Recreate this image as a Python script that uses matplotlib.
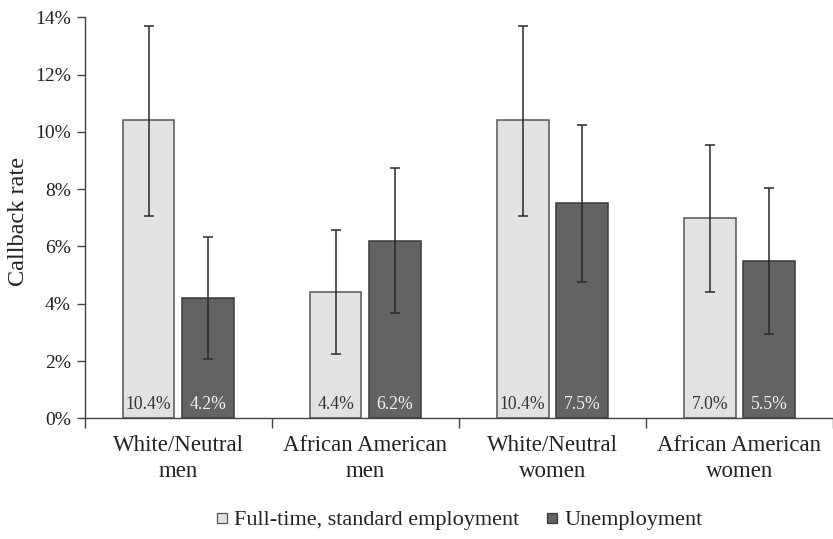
import matplotlib
matplotlib.use("Agg")
import matplotlib.pyplot as plt
from matplotlib.lines import Line2D
import numpy as np

categories = ["White/Neutral\nmen", "African American\nmen", "White/Neutral\nwomen", "African American\nwomen"]
series_names = ["Full-time, standard employment", "Unemployment"]
fulltime = [10.4, 4.4, 10.4, 7.0]
unemployment = [4.2, 6.2, 7.5, 5.5]
fulltime_lo = [7.07, 2.25, 7.07, 4.42]
fulltime_hi = [13.71, 6.56, 13.71, 9.55]
unemp_lo = [2.07, 3.68, 4.77, 2.93]
unemp_hi = [6.33, 8.75, 10.24, 8.05]
yticks = [0, 2, 4, 6, 8, 10, 12, 14]

plt.rcParams['font.family'] = ['Liberation Serif', 'DejaVu Serif']

light = '#e2e2e4'
dark = '#636365'

fig = plt.figure(figsize=(8.33, 5.39), dpi=100)
ax = fig.add_axes([0.1017, 0.2239, 0.8983, 0.744])

x = np.arange(len(categories))
w = 0.277
off = 0.159

def errs(vals, lo, hi):
    return [np.array(vals) - np.array(lo), np.array(hi) - np.array(vals)]

ax.bar(x - off, fulltime, w, color=light, edgecolor='#555555', linewidth=1.1, zorder=2)
ax.bar(x + off, unemployment, w, color=dark, edgecolor='#3a3a3a', linewidth=1.1, zorder=2)
ax.errorbar(x - off, fulltime, yerr=errs(fulltime, fulltime_lo, fulltime_hi), fmt='none',
            ecolor='#2a2a2a', elinewidth=1.1, capsize=3.5, capthick=1.1, zorder=3)
ax.errorbar(x + off, unemployment, yerr=errs(unemployment, unemp_lo, unemp_hi), fmt='none',
            ecolor='#2a2a2a', elinewidth=1.1, capsize=3.5, capthick=1.1, zorder=3)

for xi, v in zip(x - off, fulltime):
    ax.text(xi, 0.18, f"{v:.1f}%", ha='center', va='bottom', fontsize=12.7, color='#333333', zorder=4)
for xi, v in zip(x + off, unemployment):
    ax.text(xi, 0.18, f"{v:.1f}%", ha='center', va='bottom', fontsize=12.7, color='#f4f4f4', zorder=4)

ax.set_ylim(0, 14)
ax.set_xlim(-0.5, 3.476)
ax.set_yticks(yticks)
ax.set_yticklabels([f"{t}%" for t in yticks], fontsize=14, color='#222222')
ax.set_ylabel("Callback rate", fontsize=17.5, color='#222222', labelpad=14)
ax.yaxis.set_label_coords(-0.075, 0.49)

ax.set_xticks(np.arange(-0.5, 3.6, 1.0))
ax.set_xticklabels([])
ax.set_xticks(x, minor=True)
ax.set_xticklabels(categories, minor=True, fontsize=16.5, color='#222222', linespacing=1.3)
ax.tick_params(axis='x', which='minor', length=0, pad=12)
ax.tick_params(axis='x', which='major', length=7, width=1.0, color='#444444')
ax.tick_params(axis='y', length=6, width=1.0, color='#444444', pad=4)

for s in ['top', 'right']:
    ax.spines[s].set_visible(False)
for s in ['left', 'bottom']:
    ax.spines[s].set_color('#444444')
    ax.spines[s].set_linewidth(1.0)

handles = [
    Line2D([], [], marker='s', linestyle='none', markersize=7, markerfacecolor=light, markeredgecolor='#555555', markeredgewidth=0.9),
    Line2D([], [], marker='s', linestyle='none', markersize=7, markerfacecolor=dark, markeredgecolor='#3a3a3a', markeredgewidth=0.9),
]
fig.legend(handles, series_names, loc='center', bbox_to_anchor=(0.551, 0.035), ncol=2, frameon=False,
           fontsize=16, handlelength=0.6, handletextpad=0.25, columnspacing=1.2, labelcolor='#222222')

fig.savefig("out.png", dpi=100)
